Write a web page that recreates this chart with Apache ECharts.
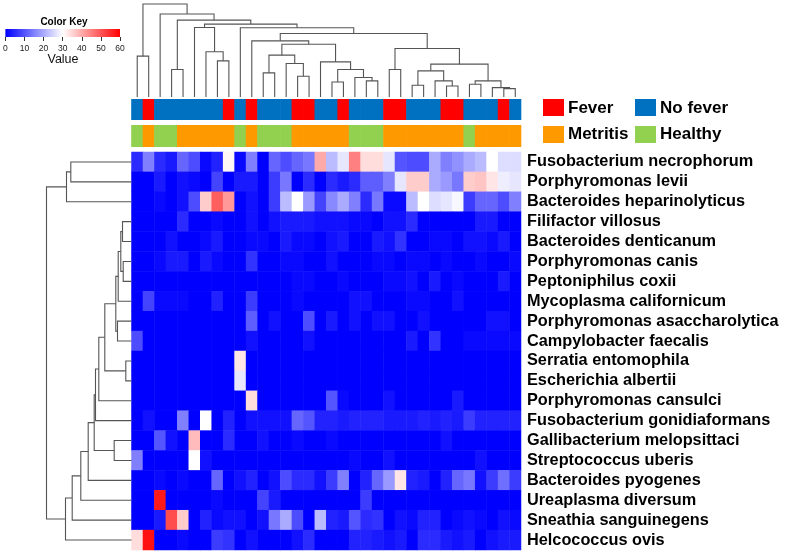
<!DOCTYPE html>
<html><head><meta charset="utf-8">
<script src="https://cdn.jsdelivr.net/npm/echarts@6/dist/echarts.min.js"></script>
<style>html,body{margin:0;padding:0;background:#fff}#c{width:785px;height:554px}</style>
</head><body><div id="c"></div>
<script>
// ---------------- DATA ----------------
var species = ['Fusobacterium necrophorum','Porphyromonas levii','Bacteroides heparinolyticus','Filifactor villosus',
 'Bacteroides denticanum','Porphyromonas canis','Peptoniphilus coxii','Mycoplasma californicum',
 'Porphyromonas asaccharolytica','Campylobacter faecalis','Serratia entomophila','Escherichia albertii',
 'Porphyromonas cansulci','Fusobacterium gonidiaformans','Gallibacterium melopsittaci','Streptococcus uberis',
 'Bacteroides pyogenes','Ureaplasma diversum','Sneathia sanguinegens','Helcococcus ovis'];

var feverStatus = ['No fever','Fever','No fever','No fever','No fever','No fever','No fever','No fever','Fever','No fever',
 'Fever','No fever','No fever','No fever','Fever','Fever','No fever','No fever','Fever','No fever',
 'No fever','No fever','Fever','Fever','No fever','No fever','No fever','Fever','Fever','No fever',
 'No fever','No fever','Fever','No fever'];
var healthStatus = ['Healthy','Metritis','Healthy','Healthy','Metritis','Metritis','Metritis','Metritis','Metritis','Healthy',
 'Metritis','Healthy','Healthy','Healthy','Metritis','Metritis','Metritis','Metritis','Metritis','Healthy',
 'Healthy','Healthy','Metritis','Metritis','Metritis','Metritis','Metritis','Metritis','Metritis','Healthy',
 'Metritis','Metritis','Metritis','Metritis'];

// relative abundance values, one row per species, 34 samples in dendrogram order
var heatValues = [
 [5,15,5,3,12,9,1,4,31,1,15,0,12,9,12,14,40,22,27,45,34,34,27,10,9,9,20,15,17,20,22,30,26,26],
 [0,0,3,0,2,1,0,8,0,3,3,0,7,14,0,5,0,5,3,5,11,11,15,27,36,36,20,18,14,36,37,33,28,27],
 [0,0,1,0,2,9,36,49,42,0,2,0,7,22,30,18,8,16,20,15,5,14,1,1,22,30,26,27,29,7,12,12,9,15],
 [0,0,0,0,5,0,0,1,0,0,2,0,2,3,3,3,2,2,2,1,1,0,2,2,5,0,0,0,0,0,3,3,0,0],
 [0,0,0,2,0,0,1,3,0,0,1,1,0,3,1,1,0,2,3,0,0,3,2,6,0,0,1,1,0,2,2,1,3,0],
 [0,0,1,3,3,0,3,1,0,0,6,0,0,1,1,0,0,2,0,0,0,1,1,0,1,1,0,1,0,0,1,0,0,1],
 [0,0,0,0,0,0,0,0,0,0,0,0,0,0,1,1,0,0,1,0,0,0,1,1,2,0,3,0,1,0,0,0,3,0],
 [0,8,1,1,1,0,0,4,0,0,7,0,0,0,1,0,0,0,0,2,2,0,0,0,1,1,0,0,2,0,0,0,0,0],
 [0,0,0,0,0,0,0,0,0,0,11,0,2,0,0,9,0,3,0,2,0,2,2,0,0,2,0,0,0,0,0,2,2,0],
 [9,0,0,0,0,0,0,0,0,0,2,0,0,0,0,2,0,0,0,0,0,0,0,0,3,0,6,0,0,1,1,1,1,1],
 [0,0,0,0,0,0,0,0,0,33,0,0,0,0,0,0,0,0,0,0,0,0,0,0,0,0,0,0,0,0,0,0,0,0],
 [0,0,0,0,0,0,0,0,0,27,0,0,0,0,0,0,0,0,0,0,0,0,0,0,0,0,0,0,0,0,0,0,0,0],
 [0,0,0,0,0,0,0,0,0,0,34,0,0,0,0,0,0,10,1,0,0,0,2,0,0,0,0,0,3,0,0,0,0,0],
 [0,2,0,0,15,0,30,0,4,0,2,2,2,2,12,10,4,4,3,4,4,4,3,3,3,4,3,4,3,7,4,4,4,4],
 [0,0,10,2,0,38,0,0,5,0,0,2,0,0,1,0,0,1,0,0,0,0,0,0,0,0,0,2,0,0,0,0,0,0],
 [15,0,0,0,0,30,2,0,0,0,0,0,0,0,0,0,0,0,0,1,0,0,2,0,0,0,0,0,0,0,2,0,0,0],
 [0,0,1,0,1,0,0,12,0,2,4,0,2,9,5,5,2,7,15,0,4,12,18,33,4,3,0,4,12,14,2,7,13,7],
 [0,0,57,0,0,0,0,1,0,0,0,8,3,0,0,0,0,0,0,0,7,0,0,0,0,0,0,0,0,0,0,0,0,0],
 [0,0,3,51,36,0,4,1,2,2,0,2,14,20,9,0,22,4,3,10,5,6,0,2,1,4,4,0,1,2,1,0,2,1],
 [34,58,0,0,1,0,0,7,6,0,2,0,0,0,2,5,0,0,0,4,4,3,2,3,0,5,5,3,2,3,0,2,3,3]
];

// column dendrogram merges: [left, right, height]; numbers are column indices
var cA = [0, 1, 43.9];
var cB = [5, [6, [7, 8, 38.8], 48.6], 74.8];
var c165 = [[11, 12, 25.9], [13, [14, 15, 22.3], 36], 45];
var c185 = [16, [[17, 18, 16.2], [19, [20, 21, 17.3], 20.9], 29.5], 37.8];
var c122 = [10, [c165, c185, 56.8], 60.4];
var c192 = [[[24, 25, 12.6], [26, [27, 28, 11.9], 17.3], 28.1], [[29, 30, 13.7], [31, [32, 33, 9], 10.1], 17.3], 35.3];
var c145 = [[22, 23, 29.5], c192, 52.2];
var c82 = [9, [c122, c145, 68.3], 74.5];
var c60 = [[3, 4, 29.5], [cB, c82, 78.4], 82.7];
var colTree = [cA, [2, c60, 89.2], 100];

// row dendrogram merges; numbers are row indices
var r39 = [[[[3, 4, 9], [5, 6, 8.3], 10.7], 7, 13.3], [8, 9, 14], 15.7];
var r13 = [[[r39, [10, 11, 5.7], 26.7], 12, 32.7], 13, 36];
var r16 = [[r13, [14, 15, 17.3], 37.3], 16, 43.3];
var r19 = [[[r16, 17, 50.7], 18, 59.3], 19, 66];
var rowTree = [[[0, 1, 60.7], 2, 65], r19, 85];

var keyColors = ['#0000ff', '#ffffff', '#ff0000'];
var keyTicks = [0, 10, 20, 30, 40, 50, 60];
var statusColors = {'Fever':'#ff0000','No fever':'#0070c0','Metritis':'#ff9900','Healthy':'#92d050'};

// ---------------- BUILD ----------------
var samples = feverStatus.map(function(_, i){ return 'S' + (i + 1); });
var heatData = [];
heatValues.forEach(function(row, r){ row.forEach(function(v, c){ heatData.push([c, r, v]); }); });

function layout(node, segs){
  if (typeof node === 'number') return {pos: node, h: 0};
  var a = layout(node[0], segs), b = layout(node[1], segs), h = node[2];
  segs.push([a.pos, a.h, b.pos, b.h, h]);
  return {pos: (a.pos + b.pos) / 2, h: h};
}
var colSegs = []; layout(colTree, colSegs);
var rowSegs = []; layout(rowTree, rowSegs);

var lineStyle = {stroke: '#555555', lineWidth: 1.1, fill: null};
function dendroTop(params, api){
  var p = [api.coord([api.value(0), api.value(1)]), api.coord([api.value(0), api.value(4)]),
           api.coord([api.value(2), api.value(4)]), api.coord([api.value(2), api.value(3)])];
  return {type: 'polyline', shape: {points: p}, style: lineStyle};
}
function dendroLeft(params, api){
  var p = [api.coord([api.value(1), api.value(0)]), api.coord([api.value(4), api.value(0)]),
           api.coord([api.value(4), api.value(2)]), api.coord([api.value(3), api.value(2)])];
  return {type: 'polyline', shape: {points: p}, style: lineStyle};
}
function annotCell(params, api){
  var c = api.coord([api.value(0), 0]);
  var s = api.size([1, 1]);
  var name = params.seriesIndex === 3 ? feverStatus[api.value(0)] : healthStatus[api.value(0)];
  return {type: 'rect', shape: {x: c[0] - s[0] / 2 - 0.3, y: c[1] - s[1] / 2, width: s[0] + 0.6, height: s[1]},
          style: {fill: statusColors[name]}};
}
function keyBar(params, api){
  var a = api.coord([keyTicks[0], 0]), b = api.coord([keyTicks[keyTicks.length - 1], 1]);
  return {type: 'rect', shape: {x: a[0], y: b[1], width: b[0] - a[0], height: a[1] - b[1]},
          style: {fill: {type: 'linear', x: 0, y: 0, x2: 1, y2: 0,
            colorStops: keyColors.map(function(col, i){ return {offset: i / (keyColors.length - 1), color: col}; })}}};
}

var FONT = '"Liberation Sans", Arial, sans-serif';

var option = {
  animation: false,
  backgroundColor: '#ffffff',
  grid: [
    {left: 131.5, top: 152, width: 389.5, height: 398},
    {left: 131.5, top: 4, width: 389.5, height: 93},
    {left: 131.5, top: 99, width: 389.5, height: 21},
    {left: 131.5, top: 125, width: 389.5, height: 22},
    {left: 45, top: 152, width: 86.5, height: 398},
    {left: 5, top: 29, width: 115, height: 8}
  ],
  xAxis: [
    {type: 'category', gridIndex: 0, data: samples, show: false},
    {type: 'value', gridIndex: 1, min: -0.5, max: 33.5, show: false},
    {type: 'category', gridIndex: 2, data: samples, show: false},
    {type: 'category', gridIndex: 3, data: samples, show: false},
    {type: 'value', gridIndex: 4, min: 0, max: 86.5, inverse: true, show: false},
    {type: 'value', gridIndex: 5, min: 0, max: 60, interval: 10,
     axisLine: {show: false}, splitLine: {show: false},
     axisTick: {show: true, length: 4, lineStyle: {color: '#333'}},
     axisLabel: {fontSize: 8.5, color: '#222', margin: 7, fontFamily: FONT}}
  ],
  yAxis: [
    {type: 'category', gridIndex: 0, data: species, inverse: true, position: 'right',
     axisLine: {show: false}, axisTick: {show: false}, splitLine: {show: false},
     axisLabel: {interval: 0, fontSize: 16.3, fontWeight: 'bold', color: '#000', margin: 6, fontFamily: FONT}},
    {type: 'value', gridIndex: 1, min: 0, max: 100, show: false},
    {type: 'category', gridIndex: 2, data: ['Fever'], show: false},
    {type: 'category', gridIndex: 3, data: ['Metritis'], show: false},
    {type: 'value', gridIndex: 4, min: -0.5, max: 19.5, inverse: true, show: false},
    {type: 'value', gridIndex: 5, min: 0, max: 1, show: false}
  ],
  visualMap: {type: 'continuous', show: false, min: keyTicks[0], max: keyTicks[keyTicks.length - 1],
    dimension: 2, seriesIndex: 0, inRange: {color: keyColors}},
  series: [
    {type: 'heatmap', xAxisIndex: 0, yAxisIndex: 0, data: heatData, progressive: 0,
     itemStyle: {borderWidth: 0}, emphasis: {disabled: true}},
    {type: 'custom', xAxisIndex: 1, yAxisIndex: 1, data: colSegs, renderItem: dendroTop, silent: true},
    {type: 'custom', xAxisIndex: 4, yAxisIndex: 4, data: rowSegs, renderItem: dendroLeft, silent: true},
    {type: 'custom', xAxisIndex: 2, yAxisIndex: 2, data: samples.map(function(_, i){ return [i, 0]; }),
     renderItem: annotCell, silent: true},
    {type: 'custom', xAxisIndex: 3, yAxisIndex: 3, data: samples.map(function(_, i){ return [i, 0]; }),
     renderItem: annotCell, silent: true},
    {type: 'custom', xAxisIndex: 5, yAxisIndex: 5, data: [[0, 0]], renderItem: keyBar, silent: true}
  ],
  graphic: [
    {type: 'text', x: 64, y: 22, style: {text: 'Color Key', font: 'bold 10px ' + FONT, fill: '#000', textAlign: 'center', textVerticalAlign: 'middle'}},
    {type: 'text', x: 63, y: 59.5, style: {text: 'Value', font: '12.5px ' + FONT, fill: '#111', textAlign: 'center', textVerticalAlign: 'middle'}},
    {type: 'rect', shape: {x: 543, y: 99, width: 21, height: 17}, style: {fill: statusColors['Fever']}},
    {type: 'rect', shape: {x: 635, y: 99, width: 21, height: 17}, style: {fill: statusColors['No fever']}},
    {type: 'rect', shape: {x: 543, y: 126, width: 21, height: 17}, style: {fill: statusColors['Metritis']}},
    {type: 'rect', shape: {x: 635, y: 126, width: 21, height: 17}, style: {fill: statusColors['Healthy']}},
    {type: 'text', x: 568, y: 108, style: {text: 'Fever', font: 'bold 17px ' + FONT, fill: '#000', textVerticalAlign: 'middle'}},
    {type: 'text', x: 660, y: 108, style: {text: 'No fever', font: 'bold 17px ' + FONT, fill: '#000', textVerticalAlign: 'middle'}},
    {type: 'text', x: 568, y: 134.5, style: {text: 'Metritis', font: 'bold 17px ' + FONT, fill: '#000', textVerticalAlign: 'middle'}},
    {type: 'text', x: 660, y: 134.5, style: {text: 'Healthy', font: 'bold 17px ' + FONT, fill: '#000', textVerticalAlign: 'middle'}}
  ]
};
var chart = echarts.init(document.getElementById('c'), null, {renderer: 'canvas'});
chart.setOption(option);
</script></body></html>
